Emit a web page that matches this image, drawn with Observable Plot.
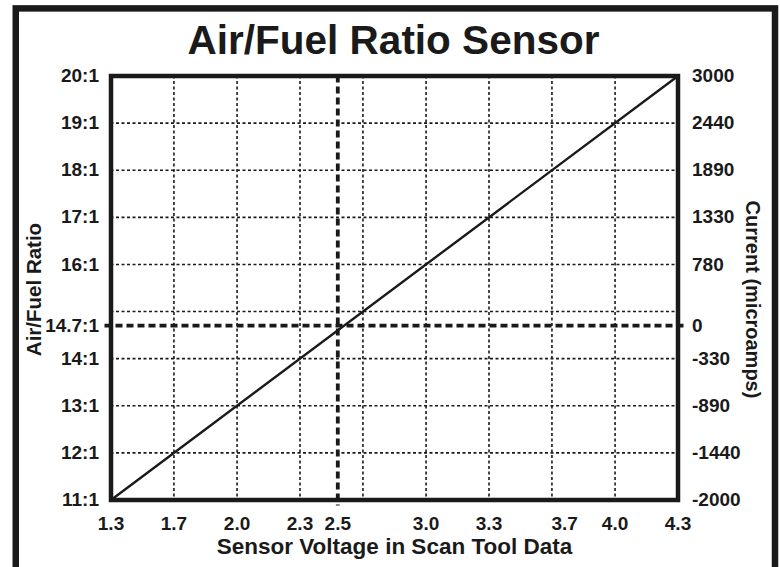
<!DOCTYPE html>
<html>
<head>
<meta charset="utf-8">
<script src="https://cdn.jsdelivr.net/npm/d3@7"></script>
<script src="https://cdn.jsdelivr.net/npm/@observablehq/plot@0.6"></script>
<style>
  html, body { margin: 0; padding: 0; background: white; }
</style>
</head>
<body>
<div id="chart"></div>
<script>
// ---- data ----
const sensorVoltage = [1.3, 4.3];          // line end points (V)
const airFuelRatio = [11, 20];             // matching A/F ratio
const gridVolts = [1.633, 1.967, 2.3, 2.633, 2.967, 3.3, 3.633, 3.967];
const gridAFR = [12, 13, 14, 15, 16, 17, 18, 19];
const xTickValues = [1.3, 1.633, 1.967, 2.3, 2.5, 2.967, 3.3, 3.7, 3.967, 4.3];
const xTickLabels = ["1.3", "1.7", "2.0", "2.3", "2.5", "3.0", "3.3", "3.7", "4.0", "4.3"];
const afrTicks = [20, 19, 18, 17, 16, 14.7, 14, 13, 12, 11];
const afrLabels = ["20:1", "19:1", "18:1", "17:1", "16:1", "14.7:1", "14:1", "13:1", "12:1", "11:1"];
const currentLabels = ["3000", "2440", "1890", "1330", "780", "0", "-330", "-890", "-1440", "-2000"];
const stoichVoltage = [2.5];
const stoichAFR = [14.7];

const lineData = sensorVoltage.map((v, i) => ({v, afr: airFuelRatio[i]}));
const FONT = "'Liberation Sans', Arial, Helvetica, sans-serif";
const TICK_FS = 19;

const chart = Plot.plot({
  width: 780,
  height: 567,
  marginLeft: 110.5,
  marginRight: 102.5,
  marginTop: 75.5,
  marginBottom: 67.5,
  style: {fontFamily: FONT, fontSize: "19px", fontWeight: "bold", color: "#1a1a1a", background: "white", overflow: "visible"},
  x: {domain: [1.3, 4.3]},
  y: {domain: [11, 20]},
  marks: [
    Plot.ruleX(gridVolts, {stroke: "#1a1a1a", strokeWidth: 1.6, strokeDasharray: "3,2.5"}),
    Plot.ruleY(gridAFR, {stroke: "#1a1a1a", strokeWidth: 1.6, strokeDasharray: "3,2.5"}),
    Plot.ruleX(stoichVoltage, {stroke: "#1a1a1a", strokeWidth: 3.8, strokeDasharray: "7,4", insetBottom: -6}),
    Plot.ruleY(stoichAFR, {stroke: "#1a1a1a", strokeWidth: 3.8, strokeDasharray: "7,4", insetLeft: -6, insetRight: -6}),
    Plot.line(lineData, {x: "v", y: "afr", stroke: "#1a1a1a", strokeWidth: 2.4}),
    Plot.frame({stroke: "#1a1a1a", strokeWidth: 4.5}),
    Plot.axisX(xTickValues, {anchor: "bottom", tickSize: 0, tickPadding: 16, label: null, fontSize: TICK_FS,
      tickFormat: d => xTickLabels[xTickValues.indexOf(d)]}),
    Plot.axisY(afrTicks, {anchor: "left", tickSize: 0, tickPadding: 12, label: null, fontSize: TICK_FS,
      tickFormat: d => afrLabels[afrTicks.indexOf(d)]}),
    Plot.axisY(afrTicks, {anchor: "right", tickSize: 0, tickPadding: 14, label: null, fontSize: TICK_FS,
      tickFormat: d => currentLabels[afrTicks.indexOf(d)]}),
    Plot.text(["Air/Fuel Ratio Sensor"], {frameAnchor: "top", textAnchor: "middle", lineAnchor: "middle",
      dy: -35, dx: -1, fontSize: 40.5, fontWeight: "bold", fill: "#1a1a1a"}),
    Plot.text(["Air/Fuel Ratio"], {frameAnchor: "left", textAnchor: "middle", lineAnchor: "middle",
      dx: -76.5, dy: 1.5, rotate: -90, fontSize: 20.5, fontWeight: "bold", fill: "#1a1a1a"}),
    Plot.text(["Current (microamps)"], {frameAnchor: "right", textAnchor: "middle", lineAnchor: "middle",
      dx: 74.5, dy: 11.5, rotate: 90, fontSize: 20, fontWeight: "bold", fill: "#1a1a1a"}),
    Plot.text(["Sensor Voltage in Scan Tool Data"], {frameAnchor: "bottom", textAnchor: "middle", lineAnchor: "middle",
      dy: 46.5, fontSize: 22.5, fontWeight: "bold", fill: "#1a1a1a"})
  ]
});

// outer border of the figure
d3.select(chart).append("rect")
  .attr("x", 15.75).attr("y", 8.4)
  .attr("width", 759.25).attr("height", 600)
  .attr("fill", "none").attr("stroke", "#1a1a1a").attr("stroke-width", 6.5);

document.getElementById("chart").appendChild(chart);
</script>
</body>
</html>
